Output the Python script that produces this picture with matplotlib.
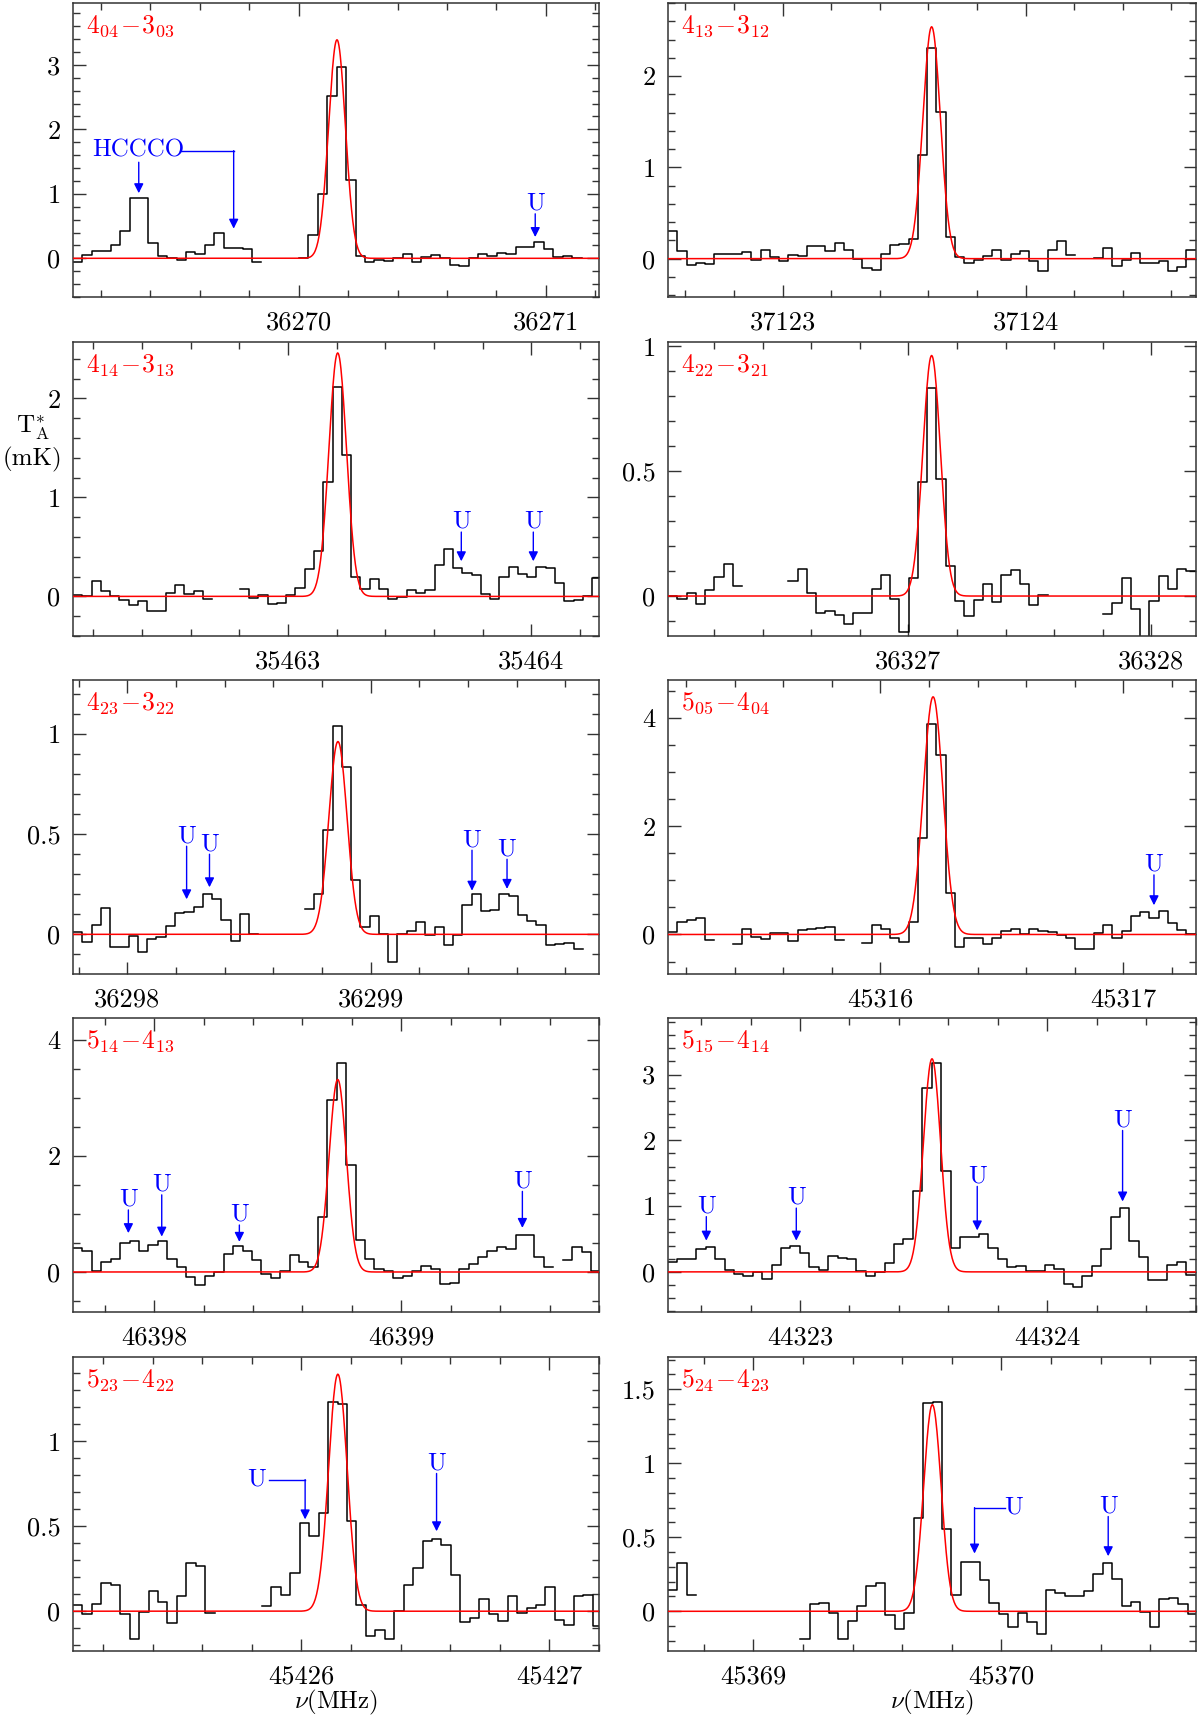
import numpy as np
import matplotlib.pyplot as plt
from matplotlib.ticker import MultipleLocator, FuncFormatter

plt.rcParams['font.family'] = 'serif'
plt.rcParams['font.serif'] = ['cmr10', 'DejaVu Serif']
plt.rcParams['mathtext.fontset'] = 'cm'
plt.rcParams['axes.formatter.use_mathtext'] = True

nan = np.nan
dv = 0.0381  # channel width, MHz

########## transitions ##########
labels = [r'$4_{04}\!-\!3_{03}$', r'$4_{13}\!-\!3_{12}$',
          r'$4_{14}\!-\!3_{13}$', r'$4_{22}\!-\!3_{21}$',
          r'$4_{23}\!-\!3_{22}$', r'$5_{05}\!-\!4_{04}$',
          r'$5_{14}\!-\!4_{13}$', r'$5_{15}\!-\!4_{14}$',
          r'$5_{23}\!-\!4_{22}$', r'$5_{24}\!-\!4_{23}$']

xlims = [(36269.087, 36271.215), (37122.528, 37124.701),
         (35462.116, 35464.278), (36326.011, 36328.184),
         (36297.777, 36299.939), (45315.126, 45317.299),
         (46397.672, 46399.800), (44322.466, 44324.602),
         (45425.079, 45427.200), (45368.656, 45370.785)]

ylims = [(-0.60, 3.96), (-0.42, 2.80), (-0.40, 2.57), (-0.16, 1.017),
         (-0.198, 1.27), (-0.73, 4.70), (-0.69, 4.38), (-0.61, 3.86),
         (-0.234, 1.495), (-0.268, 1.717)]
ymajor = [1, 1, 1, 0.5, 0.5, 2, 2, 1, 0.5, 0.5]
yminor = [0.2, 0.2, 0.2, 0.1, 0.1, 0.5, 0.5, 0.2, 0.1, 0.1]

# gaussian fits: centre (MHz), peak (mK), fwhm (MHz)
fit_center = [36270.155, 37123.613, 35463.204, 36327.096, 36298.866,
              45316.217, 46398.743, 44323.534, 45426.147, 45369.722]
fit_peak = [3.39, 2.54, 2.46, 0.963, 0.963, 4.39, 3.32, 3.24, 1.394, 1.395]
fit_fwhm = [0.080, 0.085, 0.085, 0.085, 0.088, 0.095, 0.082, 0.082, 0.088, 0.083]

########## spectra (mK), one value per channel from the left edge ##########
spec_404 = [-0.05, 0.05, 0.11, 0.12, 0.21, 0.43, 0.93, 0.94, 0.24, 0.04,
            0.01, -0.03, 0.10, 0.06, 0.20, 0.39, 0.16, 0.16, 0.15, -0.06,
            nan, nan, nan, nan, 0.01, 0.36, 1.00, 2.51, 2.96, 1.21,
            0.03, -0.06, -0.02, -0.04, 0.00, 0.06, -0.06, 0.02, 0.05, 0.00,
            -0.10, -0.12, 0.00, 0.06, 0.04, 0.08, 0.06, 0.17, 0.17, 0.25,
            0.15, 0.02, 0.04, 0.00, nan, nan]
spec_413 = [0.30, 0.08, -0.07, -0.05, -0.06, 0.05, 0.05, 0.055, 0.07, -0.01,
            0.10, 0.02, -0.03, 0.04, 0.03, 0.14, 0.14, 0.08, 0.17, 0.10,
            0.00, -0.10, -0.12, 0.05, 0.15, 0.165, 0.22, 1.14, 2.31, 1.61,
            0.24, 0.02, -0.05, -0.01, 0.03, 0.10, -0.01, 0.05, 0.08, -0.03,
            -0.14, 0.10, 0.19, 0.04, nan, nan, 0.01, 0.12, -0.08, -0.01,
            0.06, -0.05, -0.05, -0.03, -0.14, -0.09, 0.10]
spec_414 = [0.01, 0.00, 0.16, 0.05, 0.00, -0.04, -0.09, -0.05, -0.15, -0.15,
            0.03, 0.12, 0.02, 0.05, -0.03, nan, nan, nan, 0.07, -0.02,
            0.01, -0.08, -0.07, 0.01, 0.08, 0.28, 0.46, 1.16, 2.12, 1.43,
            0.20, 0.07, 0.18, 0.07, -0.03, -0.01, 0.06, 0.03, 0.06, 0.32,
            0.48, 0.29, 0.24, 0.22, 0.02, -0.03, 0.20, 0.30, 0.23, 0.20,
            0.30, 0.29, 0.14, -0.05, -0.04, 0.00, 0.19]
spec_422 = [0.00, -0.01, 0.013, -0.03, 0.025, 0.076, 0.13, 0.04, nan, nan,
            nan, nan, nan, 0.06, 0.107, 0.012, -0.067, -0.06, -0.077, -0.11,
            -0.067, -0.067, 0.027, 0.083, -0.013, -0.144, 0.072, 0.457, 0.834, 0.47,
            0.119, -0.02, -0.08, -0.017, 0.047, -0.024, 0.083, 0.105, 0.047, -0.035,
            0.003, nan, nan, nan, nan, nan, nan, -0.07, -0.027, 0.073,
            -0.053, -0.20, -0.02, 0.079, 0.03, 0.11, 0.10]
spec_423 = [0.013, -0.04, 0.047, 0.133, -0.065, -0.062, -0.007, -0.09, -0.025, -0.012,
            0.042, 0.108, 0.113, 0.138, 0.202, 0.175, 0.072, -0.032, 0.10, 0.00,
            nan, nan, nan, nan, nan, 0.127, 0.20, 0.52, 1.04, 0.835,
            0.27, 0.038, 0.092, 0.00, -0.137, 0.00, 0.018, 0.06, -0.003, 0.035,
            -0.053, -0.003, 0.147, 0.20, 0.117, 0.122, 0.20, 0.193, 0.097, 0.068,
            0.047, -0.053, -0.05, -0.045, -0.073, nan, nan]
spec_505 = [0.05, 0.23, 0.26, 0.31, -0.10, nan, nan, -0.17, 0.10, -0.055,
            -0.086, 0.02, 0.02, -0.12, 0.08, 0.10, 0.12, 0.14, -0.10, nan,
            nan, -0.15, 0.18, 0.10, -0.07, -0.135, 0.23, 1.79, 3.88, 3.32,
            0.76, -0.24, -0.074, -0.074, -0.185, -0.074, 0.068, 0.11, 0.006, 0.10,
            0.068, 0.037, -0.012, -0.074, -0.27, -0.26, 0.02, 0.17, -0.074, 0.06,
            0.345, 0.41, 0.30, 0.44, 0.215, 0.08, 0.00]
spec_514 = [0.42, 0.37, 0.02, 0.17, 0.23, 0.50, 0.54, 0.37, 0.47, 0.54,
            0.23, 0.08, -0.09, -0.22, -0.07, 0.00, 0.31, 0.44, 0.37, 0.21,
            -0.03, -0.10, 0.02, 0.29, 0.17, 0.08, 0.95, 2.97, 3.61, 1.84,
            0.56, 0.22, 0.06, 0.02, -0.11, -0.07, 0.02, 0.10, 0.05, -0.21,
            -0.19, 0.06, 0.13, 0.25, 0.36, 0.43, 0.40, 0.64, 0.63, 0.25,
            0.08, nan, 0.20, 0.43, 0.34, 0.02]
spec_515 = [0.15, 0.20, 0.20, 0.35, 0.38, 0.20, 0.035, -0.025, -0.065, 0.00,
            -0.11, 0.10, 0.36, 0.39, 0.29, 0.07, 0.025, 0.24, 0.21, 0.19,
            0.02, -0.065, 0.00, 0.14, 0.43, 0.50, 1.23, 2.79, 3.18, 1.53,
            0.36, 0.525, 0.53, 0.58, 0.37, 0.19, 0.07, 0.086, 0.02, 0.02,
            0.11, 0.05, -0.18, -0.23, -0.065, 0.086, 0.35, 0.84, 0.97, 0.47,
            0.22, -0.12, -0.12, 0.10, 0.15, -0.05]
spec_523 = [0.035, -0.014, 0.04, 0.163, 0.154, -0.014, -0.165, -0.004, 0.118, 0.055,
            -0.069, 0.09, 0.285, 0.268, -0.008, nan, nan, nan, nan, nan,
            0.031, 0.14, 0.094, 0.226, 0.52, 0.44, 0.58, 1.23, 1.22, 0.53,
            0.035, -0.148, -0.108, -0.161, 0.00, 0.157, 0.252, 0.415, 0.423, 0.39,
            0.213, -0.063, -0.037, 0.071, -0.014, -0.057, 0.089, -0.008, 0.016, 0.035,
            0.14, -0.053, -0.079, 0.089, 0.094, -0.087]
spec_524 = [0.142, 0.327, 0.108, nan, nan, nan, nan, nan, nan, nan,
            nan, nan, nan, nan, -0.185, 0.047, 0.056, -0.011, -0.185, -0.065,
            0.036, 0.171, 0.194, -0.027, -0.122, -0.011, 0.632, 1.405, 1.41, 0.555,
            0.108, 0.334, 0.334, 0.21, 0.056, -0.016, -0.106, -0.009, -0.072, -0.151,
            0.142, 0.126, 0.10, 0.104, 0.135, 0.255, 0.323, 0.217, 0.034, 0.063,
            -0.005, -0.106, 0.081, 0.092, 0.052, -0.02]

spectra = [spec_404, spec_413, spec_414, spec_422, spec_423,
           spec_505, spec_514, spec_515, spec_523, spec_524]

########## blue "U" marks: (freq, arrow tip, arrow top) ##########
u_marks = [
    [(36270.957, 0.33, 0.69)],
    [],
    [(35463.712, 0.355, 0.65), (35464.008, 0.355, 0.65)],
    [],
    [(36298.244, 0.175, 0.44), (36298.338, 0.235, 0.40),
     (36299.417, 0.218, 0.42), (36299.561, 0.227, 0.375)],
    [(45317.126, 0.54, 1.10)],
    [(46397.896, 0.67, 1.07), (46398.031, 0.61, 1.33),
     (46398.345, 0.52, 0.81), (46399.490, 0.76, 1.39)],
    [(44322.621, 0.475, 0.84), (44322.985, 0.475, 0.97),
     (44323.717, 0.63, 1.30), (44324.305, 1.07, 2.15)],
    [(45426.545, 0.47, 0.81)],
    [(45370.431, 0.372, 0.64)],
]
# bent marks: panel, text, text x, text y, corner x, arrow x, arrow tip
bent_marks = [
    (0, 'HCCCO', 36269.353, 1.67, 36269.520, 36269.737, 0.46),
    (8, 'U', 45425.819, 0.774, 45425.870, 45426.015, 0.54),
    (9, 'U', 45370.049, 0.70, 45370.015, 45369.892, 0.39),
]

BLUE = '#0000ff'
RED = '#ff0000'

fig = plt.figure(figsize=(12, 17.2), dpi=100)

col_x = [73 / 1200, 668 / 1200]
col_w = [526 / 1200, 528 / 1200]
row_top = [3, 342, 680, 1018, 1357]
ph = 294

arrow_kw = dict(arrowstyle='-|>', color=BLUE, lw=1.0,
                mutation_scale=14, shrinkA=0, shrinkB=0)

axes = []
for i in range(10):
    r, c = i // 2, i % 2
    bottom = 1 - (row_top[r] + ph) / 1720
    ax = fig.add_axes([col_x[c], bottom, col_w[c], ph / 1720])
    axes.append(ax)

    vals = np.array(spectra[i], dtype=float)
    edges = xlims[i][0] + dv * np.arange(len(vals) + 1)
    ax.plot(edges, np.append(vals, vals[-1]), drawstyle='steps-post',
            color='black', lw=1.1, zorder=2)

    xx = np.linspace(xlims[i][0], xlims[i][1], 800)
    gauss = fit_peak[i] * np.exp(-4 * np.log(2) * (xx - fit_center[i]) ** 2 / fit_fwhm[i] ** 2)
    ax.plot(xx, gauss, color=RED, lw=1.1, zorder=3)

    ax.set_xlim(*xlims[i])
    ax.set_ylim(*ylims[i])
    ax.xaxis.set_major_locator(MultipleLocator(1))
    ax.xaxis.set_minor_locator(MultipleLocator(0.2))
    ax.yaxis.set_major_locator(MultipleLocator(ymajor[i]))
    ax.yaxis.set_minor_locator(MultipleLocator(yminor[i]))
    ax.xaxis.set_major_formatter(FuncFormatter(lambda v, p: '%d' % round(v)))
    ax.yaxis.set_major_formatter(FuncFormatter(lambda v, p: '%g' % round(v, 2)))
    ax.tick_params(which='both', direction='in', top=True, right=True,
                   labelsize=19, width=1.0, color='#333333')
    ax.tick_params(which='major', length=9)
    ax.tick_params(which='minor', length=5)
    ax.tick_params(axis='x', pad=10)
    ax.tick_params(axis='y', pad=9)
    for s in ax.spines.values():
        s.set_linewidth(1.1)
        s.set_color('#333333')

    ax.text(0.025, 0.965, labels[i], transform=ax.transAxes, color=RED,
            fontsize=18.5, ha='left', va='top')

    for (fx, tip, top) in u_marks[i]:
        ax.annotate('', xy=(fx, tip), xytext=(fx, top), arrowprops=arrow_kw)
        ax.annotate('U', xy=(fx, top), xytext=(0, 3), textcoords='offset points',
                    ha='center', va='baseline', color=BLUE, fontsize=18)

for (i, txt, tx, ty, cx, axx, tip) in bent_marks:
    ax = axes[i]
    ax.text(tx, ty, txt, color=BLUE, fontsize=18, ha='center', va='center')
    ax.plot([cx, axx], [ty, ty], color=BLUE, lw=1.0)
    ax.annotate('', xy=(axx, tip), xytext=(axx, ty), arrowprops=arrow_kw)
    if txt == 'HCCCO':
        ax.annotate('', xy=(tx, 1.01), xytext=(tx, 1.49), arrowprops=arrow_kw)

fig.text(0.027, 0.751, r'T$_{\rm A}^{*}$', fontsize=18, ha='center', va='center')
fig.text(0.027, 0.733, '(mK)', fontsize=18, ha='center', va='center')
fig.text(0.280, 0.010, r'$\nu$(MHz)', fontsize=18, ha='center', va='center')
fig.text(0.777, 0.010, r'$\nu$(MHz)', fontsize=18, ha='center', va='center')

fig.savefig('out.png', dpi=100)
